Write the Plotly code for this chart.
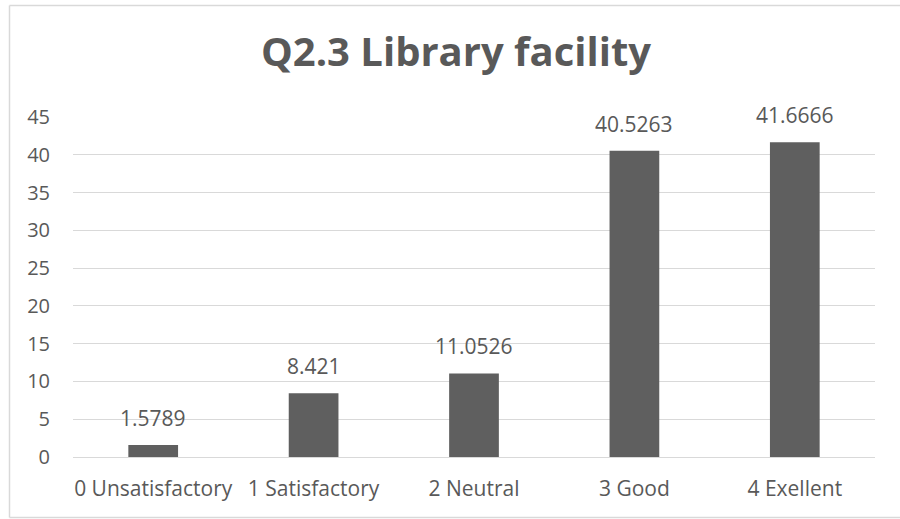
import plotly.graph_objects as go

categories = ["0 Unsatisfactory", "1 Satisfactory", "2 Neutral", "3 Good", "4 Exellent"]
values = [1.5789, 8.421, 11.0526, 40.5263, 41.6666]
value_labels = ["1.5789", "8.421", "11.0526", "40.5263", "41.6666"]
y_ticks = [0, 5, 10, 15, 20, 25, 30, 35, 40, 45]

GRAY = "#595959"
FONT = "Open Sans"

W, H = 900, 519
L, R, T, B = 73, 25, 117, 62
PW, PH = W - L - R, H - T - B


def px_to_paper_x(px):
    return (px - L) / PW


def px_to_paper_y(py):
    return (T + PH - py) / PH


fig = go.Figure(
    go.Bar(
        x=categories,
        y=values,
        cliponaxis=False,
        marker=dict(color="#5f5f5f", line=dict(width=0)),
        width=0.31,
        hoverinfo="x+y",
    )
)

for cat, val, lab in zip(categories, values, value_labels):
    fig.add_annotation(
        x=cat,
        y=val,
        text=lab,
        showarrow=False,
        yanchor="bottom",
        xanchor="center",
        yshift=11,
        font=dict(family=FONT, size=21, color=GRAY),
    )

border = dict(color="#d9d9d9", width=1.5)
left, top, bottom, right = 9.5, 5.5, 517.5, W + 20

fig.update_layout(
    width=W,
    height=H,
    margin=dict(l=L, r=R, t=T, b=B, autoexpand=False),
    paper_bgcolor="white",
    plot_bgcolor="white",
    showlegend=False,
    title=dict(
        text="<b>Q2.3 Library facility</b>",
        x=(456 - L) / PW,
        xref="paper",
        y=1 - 52 / H,
        yref="container",
        xanchor="center",
        yanchor="middle",
        font=dict(family=FONT, size=40, color=GRAY),
    ),
    xaxis=dict(
        automargin=False,
        showgrid=False,
        showline=False,
        ticks="",
        tickfont=dict(family=FONT, size=21, color=GRAY),
        ticklabelstandoff=17,
    ),
    yaxis=dict(
        automargin=False,
        range=[0, 45],
        tickvals=y_ticks,
        showgrid=True,
        gridcolor="#d9d9d9",
        gridwidth=1,
        zeroline=True,
        zerolinecolor="#d9d9d9",
        zerolinewidth=1,
        showline=False,
        ticks="",
        tickfont=dict(family=FONT, size=20, color=GRAY),
        ticklabelstandoff=22,
    ),
    shapes=[
        dict(type="line", xref="paper", yref="paper",
             x0=px_to_paper_x(left), x1=px_to_paper_x(left),
             y0=px_to_paper_y(bottom), y1=px_to_paper_y(top),
             line=border, layer="below"),
        dict(type="line", xref="paper", yref="paper",
             x0=px_to_paper_x(left), x1=px_to_paper_x(right),
             y0=px_to_paper_y(bottom), y1=px_to_paper_y(bottom),
             line=border, layer="below"),
        dict(type="line", xref="paper", yref="paper",
             x0=px_to_paper_x(left), x1=px_to_paper_x(right),
             y0=px_to_paper_y(top), y1=px_to_paper_y(top),
             line=border, layer="below"),
    ],
)

fig.write_html(
    "out.html",
    config={"displayModeBar": False},
    post_script=(
        "document.documentElement.style.overflow='hidden';"
        "document.body.style.margin='0';"
        "document.body.style.overflow='hidden';"
    ),
)
